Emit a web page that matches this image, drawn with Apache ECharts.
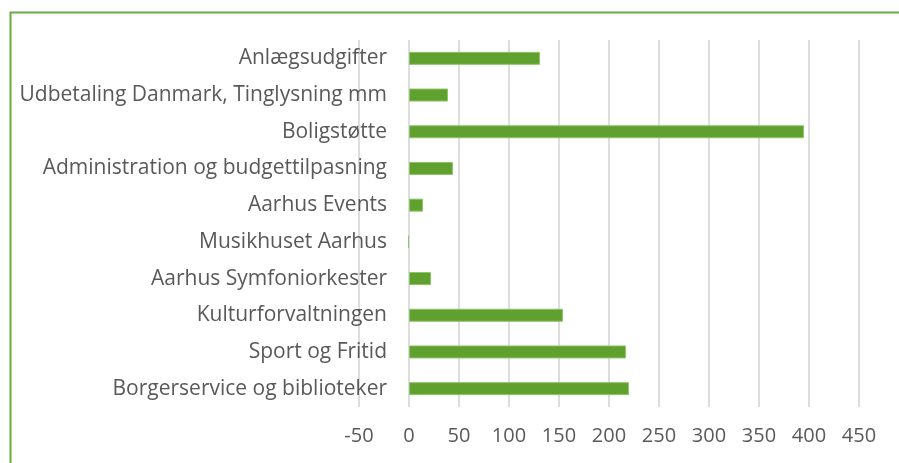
<!DOCTYPE html>
<html>
<head>
<meta charset="utf-8">
<script src="https://cdn.jsdelivr.net/npm/echarts@6/dist/echarts.min.js"></script>
<style>
  html, body { margin: 0; padding: 0; background: #fff; }
  #grafico { width: 899px; height: 463px; }
</style>
</head>
<body>
<div id="grafico"></div>
<script>
// categories from bottom to top (category axis starts at the bottom)
const categories = [
    'Borgerservice og biblioteker',
    'Sport og Fritid',
    'Kulturforvaltningen',
    'Aarhus Symfoniorkester',
    'Musikhuset Aarhus',
    'Aarhus Events',
    'Administration og budgettilpasning',
    'Boligstøtte',
    'Udbetaling Danmark, Tinglysning mm',
    'Anlægsudgifter'
];
const values = [220, 217, 154, 22, -1, 14, 44, 395, 39, 131];

const xMin = -50;
const xMax = 450;
const xStep = 50;

const chartDom = document.getElementById('grafico');
const myChart = echarts.init(chartDom);

const textGray = '#595959';
const fontName = 'Open Sans';

const option = {
    animation: false,
    // green frame around the chart area
    graphic: [{
        type: 'rect',
        left: 8,
        top: 10,
        shape: { width: 1000, height: 1000 },
        style: { fill: 'none', stroke: '#6aab3b', lineWidth: 2 },
        silent: true
    }],
    grid: {
        left: 359,
        right: 40,
        top: 40,
        bottom: 56
    },
    xAxis: {
        type: 'value',
        min: xMin,
        max: xMax,
        interval: xStep,
        axisLine: { show: false },
        axisTick: { show: false },
        splitLine: { lineStyle: { color: '#dddddd', width: 2 } },
        axisLabel: {
            color: textGray,
            fontSize: 20,
            fontFamily: fontName,
            margin: 19
        }
    },
    yAxis: {
        type: 'category',
        data: categories,
        axisLine: { show: false },
        axisTick: { show: false },
        axisLabel: {
            color: textGray,
            fontSize: 21,
            fontFamily: fontName,
            // labels sit left of the zero line, inside the plot area
            margin: -28
        }
    },
    series: [{
        type: 'bar',
        data: values,
        barWidth: 13,
        itemStyle: {
            color: '#60a02e',
            borderColor: '#8ec46a',
            borderWidth: 1
        }
    }]
};

option && myChart.setOption(option);

window.addEventListener('resize', () => {
    myChart.resize();
});
</script>
</body>
</html>
